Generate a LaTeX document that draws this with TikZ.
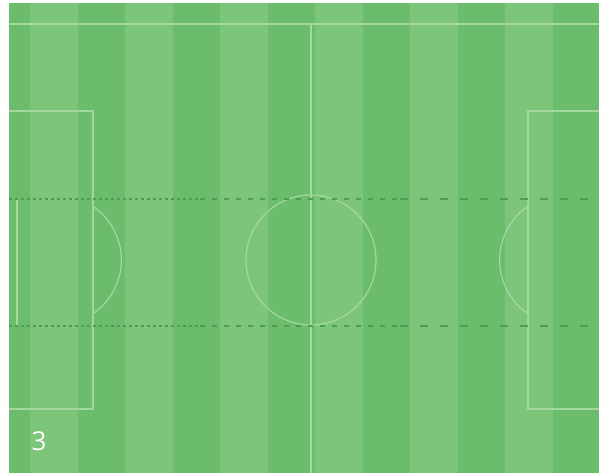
\documentclass[tikz,border=0pt]{standalone}
\usepackage{fontspec}
\setmainfont{Open Sans}
\definecolor{stripeA}{HTML}{6BBC6B}
\definecolor{stripeB}{HTML}{7DC57B}
\definecolor{pitchline}{HTML}{A3D89F}
\definecolor{dashcol}{HTML}{4F9C55}
\tikzset{
  pline/.style={draw=pitchline, line width=1.2pt},
  markline/.style={draw=dashcol, line width=1.6pt},
}
\begin{document}
\begin{tikzpicture}[x=1pt,y=-1pt]
\useasboundingbox (0,0) rectangle (599,473);
\fill[white] (0,0) rectangle (599,473);
% base field
\fill[stripeA] (9,3) rectangle (599,473);
% lighter stripes
\foreach \s in {30,125,220,315,410,505} {
  \fill[stripeB] (\s,3) rectangle ({\s+48},473);
}
% touchline and halfway line
\draw[pline] (9,24) -- (599,24);
\draw[pline] (311,24) -- (311,473);
% centre circle
\draw[pline] (311,260) circle (65);
% left penalty box and arc
\draw[pline] (9,111) -- (93,111) -- (93,409) -- (9,409);
\draw[pline] (17,199) -- (17,326);
\draw[pline] (93,206.3) arc[start angle=-55.7, end angle=55.7, radius=65];
% right penalty box and arc
\draw[pline] (599,111) -- (528,111) -- (528,409) -- (599,409);
\draw[pline] (528,206.3) arc[start angle=235.7, end angle=124.3, radius=65];
% dashed lines
\foreach \y in {199,326} {
  \draw[markline, dash pattern=on 2.5pt off 3.5pt] (9,\y) -- (200,\y);
  \draw[markline, dash pattern=on 5pt off 7pt] (200,\y) -- (400,\y);
  \draw[markline, dash pattern=on 8pt off 12pt] (400,\y) -- (599,\y);
}
\node[text=white, font=\fontsize{26}{30}\selectfont, anchor=center] (num) at (39,441) {3};
\end{tikzpicture}
\end{document}
